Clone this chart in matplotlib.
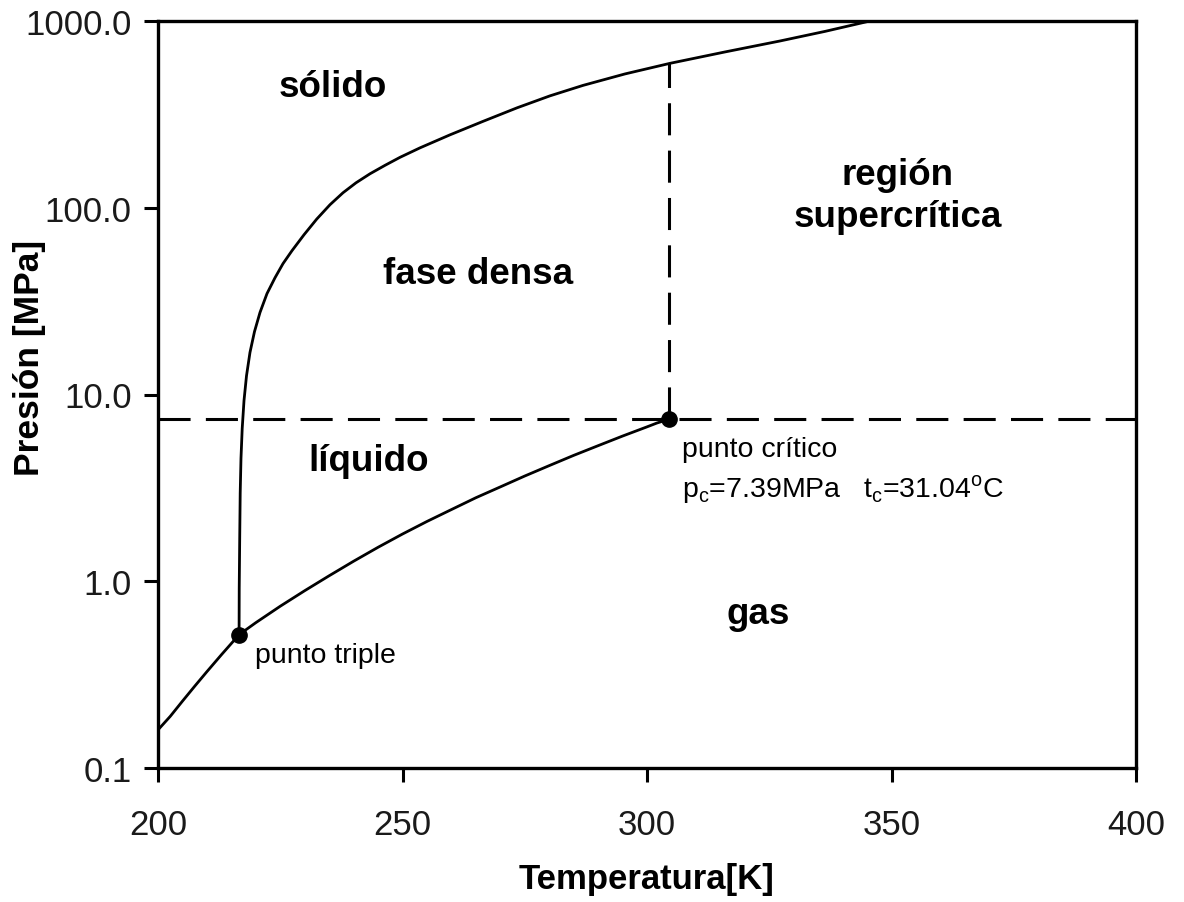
import matplotlib
matplotlib.use("Agg")
import matplotlib.pyplot as plt
from matplotlib.ticker import FixedLocator, FixedFormatter, NullLocator

plt.rcParams['font.family'] = ['Liberation Sans', 'DejaVu Sans']

# --- data ---
# sublimation curve (solid-gas)
subl_T = [200.0, 202.5, 205.0, 207.5, 210.0, 213.0, 216.6]
subl_p = [0.160, 0.189, 0.228, 0.274, 0.328, 0.405, 0.518]
# vaporization curve (liquid-gas)
vap_T = [216.6, 220.0, 225.0, 230.0, 235.0, 240.0, 245.0, 250.0, 255.0, 260.0, 265.0,
         270.0, 275.0, 280.0, 285.0, 290.0, 295.0, 300.0, 302.0, 304.6]
vap_p = [0.518, 0.60, 0.735, 0.89, 1.07, 1.28, 1.52, 1.79, 2.09, 2.42, 2.80,
         3.20, 3.66, 4.16, 4.72, 5.32, 5.99, 6.71, 7.03, 7.39]
# melting curve (solid-liquid)
melt_T = [216.58, 216.61, 216.71, 216.81, 216.97, 217.22, 217.59, 218.10, 218.81, 219.73,
          220.86, 222.29, 223.93, 225.56, 227.40, 229.86, 232.45, 235.17, 237.83, 240.49,
          243.35, 246.42, 249.49, 253.58, 259.71, 266.46, 273.42, 280.16, 286.91, 295.50,
          304.70, 315.95, 327.20, 336.40, 345.60]
melt_p = [0.518, 0.918, 1.70, 2.96, 4.55, 6.58, 9.29, 12.6, 16.8, 21.7,
          27.5, 34.7, 42.2, 50.2, 58.9, 71.7, 86.9, 103.8, 120.3, 136.0,
          152.0, 168.7, 186.2, 209.3, 245.7, 290.1, 342.8, 397.4, 452.0, 520.7,
          593.3, 682.8, 781.6, 879.7, 1000.0]

triple_T, triple_p = 216.6, 0.518
crit_T, crit_p = 304.6, 7.39
crit_top = 593.3

x_ticks = [200, 250, 300, 350, 400]
x_ticklabels = ['200', '250', '300', '350', '400']
y_ticks = [0.1, 1.0, 10.0, 100.0, 1000.0]
y_ticklabels = ['0.1', '1.0', '10.0', '100.0', '1000.0']

region_labels = ['sólido', 'fase densa', 'región\nsupercrítica', 'líquido', 'gas']
region_T = [235.8, 265.4, 351.3, 243.0, 322.7]
region_p = [444.0, 44.4, 116.0, 4.44, 0.675]

# --- figure ---
fig = plt.figure(figsize=(11.84, 9.03), dpi=100)
ax = fig.add_axes([158/1184, 1 - 769/903, (1136-158)/1184, (769-22)/903])

ax.set_yscale('log')
ax.set_xlim(200, 400)
ax.set_ylim(0.1, 1000)

lw_curve = 2.0
ax.plot(subl_T, subl_p, color='black', lw=lw_curve)
ax.plot(vap_T, vap_p, color='black', lw=lw_curve)
ax.plot(melt_T, melt_p, color='black', lw=lw_curve)

# dashed lines through the critical point
ax.axhline(crit_p, color='black', lw=2.2, linestyle=(0, (10.5, 5)))
ax.plot([crit_T, crit_T], [crit_p, crit_top], color='black', lw=2.2, linestyle=(0, (10.5, 5)))

ax.plot([triple_T, crit_T], [triple_p, crit_p], linestyle='none', marker='o',
        markersize=11, color='black', zorder=5)

for lab, t, p in zip(region_labels, region_T, region_p):
    ax.text(t, p, lab, ha='center', va='center', fontsize=26.5, fontweight='bold',
            linespacing=1.25, color='black')

ax.text(307.2, 5.08, 'punto crítico', ha='left', va='center', fontsize=20.5, color='black')
ax.text(307.2, 3.14, r'p$_\mathregular{c}$=7.39MPa   t$_\mathregular{c}$=31.04$^\mathregular{o}$C',
        ha='left', va='center', fontsize=20.5, color='black')
ax.text(219.8, 0.402, 'punto triple', ha='left', va='center', fontsize=20.5, color='black')

ax.xaxis.set_major_locator(FixedLocator(x_ticks))
ax.xaxis.set_major_formatter(FixedFormatter(x_ticklabels))
ax.yaxis.set_major_locator(FixedLocator(y_ticks))
ax.yaxis.set_major_formatter(FixedFormatter(y_ticklabels))
ax.xaxis.set_minor_locator(NullLocator())
ax.yaxis.set_minor_locator(NullLocator())

ax.tick_params(axis='both', which='major', direction='out', length=10, width=2.2,
               labelsize=25, colors='black', labelcolor='#1a1a1a')
ax.tick_params(axis='x', pad=19)
ax.tick_params(axis='y', pad=9)

for s in ax.spines.values():
    s.set_linewidth(2.4)

ax.set_xlabel('Temperatura[K]', fontsize=25, fontweight='bold')
ax.set_ylabel('Presión [MPa]', fontsize=25.5, fontweight='bold')
ax.xaxis.set_label_coords(0.5, -(880 - 769) / 747, transform=ax.transAxes)
ax.yaxis.set_label_coords(-(158 - 30) / 978, (769 - 358) / 747, transform=ax.transAxes)
ax.xaxis.label.set_va('center')
ax.yaxis.label.set_va('center')

fig.savefig('out.png', dpi=100)
